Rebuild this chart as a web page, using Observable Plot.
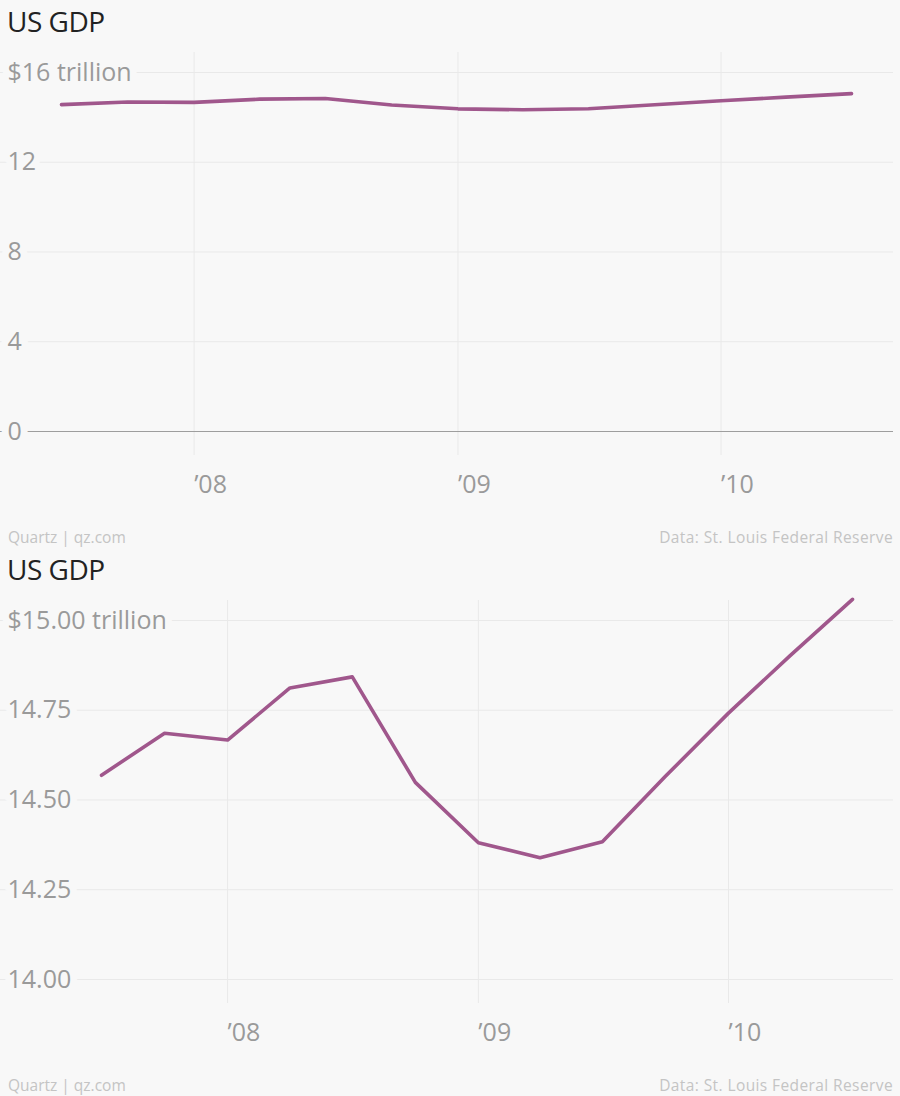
<!DOCTYPE html>
<html>
<head>
<meta charset="utf-8">
<script src="https://cdn.jsdelivr.net/npm/d3@7"></script>
<script src="https://cdn.jsdelivr.net/npm/@observablehq/plot@0.6"></script>
<style>
  body { margin: 0; background: #f8f8f8; font-family: "Open Sans", sans-serif; }
  .block { position: relative; width: 900px; height: 548px; overflow: visible; }
  .title { position: absolute; left: 7px; top: 7px; font-size: 28px; line-height: 28px; color: #222; letter-spacing: -0.5px; }
  .chart { position: absolute; left: 0; top: 40px; }
  .foot { position: absolute; top: 530px; font-size: 15.5px; line-height: 15px; color: #c4c4c4; }
  .foot.left { left: 8px; }
  .foot.right { right: 7px; letter-spacing: 0.4px; }
  svg text { paint-order: stroke; stroke-linejoin: round; }
</style>
</head>
<body>
<div id="root"></div>
<script>
// Quarterly US GDP, trillions of dollars
const quarters = ["2007-07-01","2007-10-01","2008-01-01","2008-04-01","2008-07-01","2008-10-01",
                  "2009-01-01","2009-04-01","2009-07-01","2009-10-01","2010-01-01","2010-04-01","2010-07-01"];
const gdpTrillions = [14.569, 14.686, 14.667, 14.812, 14.843, 14.549,
                      14.381, 14.339, 14.384, 14.566, 14.742, 14.902, 15.059];

const yearTicks = ["2008-01-01","2009-01-01","2010-01-01"];
const yearLabels = ["\u201908","\u201909","\u201910"];

const topTicks = [0, 4, 8, 12, 16];
const topTickLabels = ["0", "4", "8", "12", "$16 trillion"];
const bottomTicks = [14, 14.25, 14.5, 14.75, 15];
const bottomTickLabels = ["14.00", "14.25", "14.50", "14.75", "$15.00 trillion"];

const titleText = "US GDP";
const sourceLeft = "Quartz | qz.com";
const sourceRight = "Data: St. Louis Federal Reserve";

const data = quarters.map((q, i) => ({date: new Date(q), value: gdpTrillions[i]}));
const yearDates = yearTicks.map(d => new Date(d));

const BG = "#f8f8f8";
const GRID = "#e9e9e9";
const LABEL = "#9a9a9a";
const LINE = "#a0578c";

function makeChart({yDomain, ticks, tickLabels, xRange, zeroLine}) {
  const W = 900, H = 480;
  const marks = [
    Plot.ruleX(yearDates, {x: d => d, stroke: GRID, strokeWidth: 1}),
    Plot.ruleY(ticks, {y: d => d, stroke: GRID, strokeWidth: 1}),
  ];
  if (zeroLine) marks.push(Plot.ruleY([0], {stroke: "#9e9e9e", strokeWidth: 1.2}));
  marks.push(
    Plot.text(ticks, {
      y: d => d, text: (d, i) => tickLabels[i], frameAnchor: "left", textAnchor: "start",
      dx: 7, fill: LABEL, stroke: BG, strokeWidth: 14, fontSize: 25, lineAnchor: "middle"
    }),
    Plot.text(yearDates, {
      x: d => d, text: (d, i) => yearLabels[i], frameAnchor: "bottom", dy: 29,
      textAnchor: "start", lineAnchor: "middle", fill: LABEL, fontSize: 25
    }),
    Plot.line(data, {x: "date", y: "value", stroke: LINE, strokeWidth: 3.6, strokeLinejoin: "round", strokeLinecap: "round"})
  );
  return Plot.plot({
    width: W, height: H,
    marginLeft: 0, marginRight: 7, marginTop: 12, marginBottom: 65,
    style: {background: "transparent", fontFamily: "'Open Sans', sans-serif", overflow: "visible"},
    x: {type: "utc", domain: [data[0].date, data[data.length - 1].date], range: xRange, axis: null},
    y: {domain: yDomain, range: [391, 32], axis: null},
    marks
  });
}

function block(opts) {
  const div = document.createElement("div");
  div.className = "block";
  const t = document.createElement("div");
  t.className = "title"; t.textContent = titleText;
  const c = document.createElement("div");
  c.className = "chart";
  c.appendChild(makeChart(opts));
  const fl = document.createElement("div");
  fl.className = "foot left"; fl.textContent = sourceLeft;
  const fr = document.createElement("div");
  fr.className = "foot right"; fr.textContent = sourceRight;
  div.append(t, c, fl, fr);
  return div;
}

const root = document.getElementById("root");
root.appendChild(block({yDomain: [0, 16], ticks: topTicks, tickLabels: topTickLabels, xRange: [61, 851], zeroLine: true}));
root.appendChild(block({yDomain: [14, 15], ticks: bottomTicks, tickLabels: bottomTickLabels, xRange: [101, 852], zeroLine: false}));
</script>
</body>
</html>
